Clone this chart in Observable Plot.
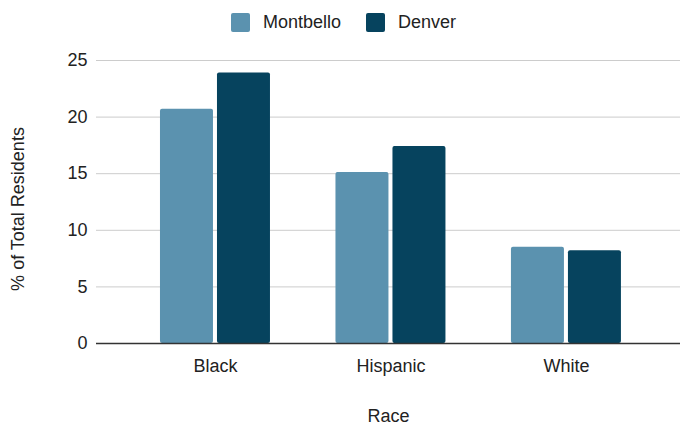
<!DOCTYPE html>
<html>
<head>
<meta charset="utf-8">
<script src="https://cdn.jsdelivr.net/npm/d3@7"></script>
<script src="https://cdn.jsdelivr.net/npm/@observablehq/plot@0.6"></script>
<style>
  body { margin: 0; background: #fff; font-family: "Liberation Sans", Arial, sans-serif; }
  #legend { height: 40px; box-sizing: border-box; padding-top: 5px; padding-left: 231px;
            display: flex; align-items: center; font-size: 18px; color: #222; }
  .item { display: flex; align-items: center; margin-right: 25px; }
  .swatch { width: 19px; height: 19px; border-radius: 2px; margin-right: 13px; }
  #chart svg { display: block; }
</style>
</head>
<body>
<div id="legend"></div>
<div id="chart"></div>
<script>
// Share of residents by race: Montbello neighbourhood vs. Denver overall
const races = ["Black", "Hispanic", "White"];
const seriesNames = ["Montbello", "Denver"];
const montbello = [20.7, 15.1, 8.5];
const denver = [23.9, 17.4, 8.2];
const seriesColors = ["#5b92af", "#06435e"];
const yTicks = [0, 5, 10, 15, 20, 25];
const yLabel = "% of Total Residents";
const xLabel = "Race";

// long table: one row per (race, series)
const rows = races.flatMap((race, i) => [
  {race, i, k: 0, series: seriesNames[0], value: montbello[i]},
  {race, i, k: 1, series: seriesNames[1], value: denver[i]}
]);

// bars are placed side by side around each category's index
const barW = 0.302, gap = 0.0114;
const left = d => d.k === 0 ? d.i - gap - barW : d.i + gap;

// legend
const legend = document.getElementById("legend");
seriesNames.forEach((name, k) => {
  const item = document.createElement("div");
  item.className = "item";
  item.innerHTML = `<div class="swatch" style="background:${seriesColors[k]}"></div><span>${name}</span>`;
  legend.appendChild(item);
});

const chart = Plot.plot({
  width: 680,
  height: 385,
  marginTop: 20,
  marginBottom: 82,
  marginLeft: 96,
  marginRight: 0,
  style: {fontFamily: '"Liberation Sans", Arial, sans-serif', fontSize: "18px", color: "#222", background: "#fff"},
  x: {domain: [-0.678, 2.65]},
  y: {domain: [0, 25]},
  marks: [
    Plot.ruleY(yTicks.filter(t => t > 0), {stroke: "#cccccc", strokeWidth: 1}),
    Plot.rect(rows, {
      x1: left,
      x2: d => left(d) + barW,
      y1: 0,
      y2: "value",
      fill: d => seriesColors[d.k],
      rx: 2
    }),
    Plot.ruleY([0], {stroke: "#333", strokeWidth: 1.5}),
    Plot.axisY({ticks: yTicks, tickSize: 0, tickPadding: 9, label: null}),
    Plot.axisX({ticks: [0, 1, 2], tickFormat: i => races[i], tickSize: 0, tickPadding: 16, label: null}),
    Plot.text([yLabel], {text: d => d, frameAnchor: "left", textAnchor: "middle", lineAnchor: "middle", rotate: -90, dx: -78, dy: 7}),
    Plot.text([xLabel], {text: d => d, frameAnchor: "bottom", dy: 73, lineAnchor: "middle"})
  ]
});
document.getElementById("chart").appendChild(chart);
</script>
</body>
</html>
